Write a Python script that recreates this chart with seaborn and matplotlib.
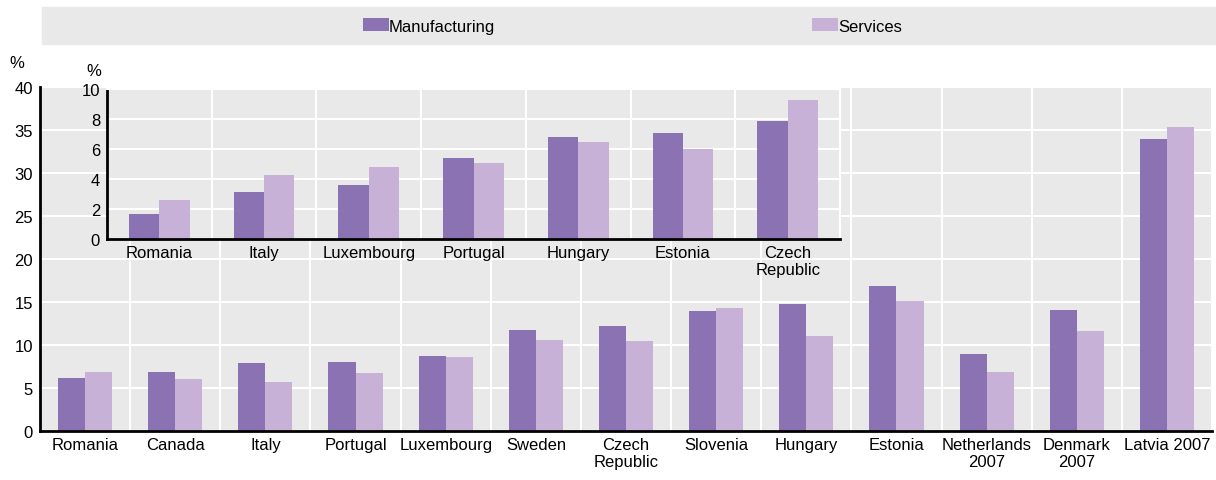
import numpy as np
import pandas as pd
import matplotlib
matplotlib.use("Agg")
import matplotlib.pyplot as plt
from matplotlib.patches import Rectangle
import seaborn as sns

# data
series_names = ["Manufacturing", "Services"]

main_countries = ["Romania", "Canada", "Italy", "Portugal", "Luxembourg", "Sweden",
                  "Czech\nRepublic", "Slovenia", "Hungary", "Estonia",
                  "Netherlands\n2007", "Denmark\n2007", "Latvia 2007"]
main_manufacturing = [6.2, 6.9, 7.9, 8.0, 8.7, 11.7, 12.2, 13.95, 14.75, 16.9, 8.9, 14.1, 33.9]
main_services = [6.9, 6.1, 5.7, 6.8, 8.55, 10.6, 10.5, 14.3, 11.1, 15.1, 6.85, 11.65, 35.35]
main_yticks = [0, 5, 10, 15, 20, 25, 30, 35, 40]

inset_countries = ["Romania", "Italy", "Luxembourg", "Portugal", "Hungary", "Estonia",
                   "Czech\nRepublic"]
inset_manufacturing = [1.67, 3.15, 3.6, 5.38, 6.8, 7.07, 7.9]
inset_services = [2.6, 4.3, 4.8, 5.09, 6.47, 5.98, 9.27]
inset_yticks = [0, 2, 4, 6, 8, 10]

palette = {"Manufacturing": "#8b73b3", "Services": "#c7b1d6"}
bg = "#e9e9e9"

sns.set_style("white", {"axes.facecolor": bg})
plt.rcParams["font.family"] = ["Liberation Sans Narrow", "Liberation Sans", "DejaVu Sans"]
plt.rcParams["font.size"] = 12
plt.rcParams["text.color"] = "black"
plt.rcParams["xtick.color"] = "black"
plt.rcParams["ytick.color"] = "black"
plt.rcParams["xtick.labelcolor"] = "black"
plt.rcParams["ytick.labelcolor"] = "black"


def to_long(countries, manu, serv):
    return pd.DataFrame({
        "country": countries * 2,
        "value": manu + serv,
        "series": [series_names[0]] * len(countries) + [series_names[1]] * len(countries),
    })


def style_axis(ax, n, yticks):
    ax.set_xlim(-0.5, n - 0.5)
    ax.set_ylim(yticks[0], yticks[-1])
    ax.set_yticks(yticks)
    ax.set_xticks(np.arange(n) + 0.5, minor=True)
    ax.set_axisbelow(True)
    ax.grid(True, axis="y", which="major", color="white", linewidth=1.5)
    ax.grid(True, axis="x", which="minor", color="white", linewidth=1.5)
    ax.grid(False, axis="x", which="major")
    ax.tick_params(axis="x", which="major", length=0, pad=4, labelsize=12, labelcolor="black")
    ax.tick_params(axis="x", which="minor", direction="in", length=5, width=2, color="black")
    ax.tick_params(axis="y", direction="in", length=5, width=2, pad=5, labelsize=12,
                   color="black", labelcolor="black")
    for s in ["left", "bottom"]:
        ax.spines[s].set_color("black")
        ax.spines[s].set_linewidth(2)
    for s in ["top", "right"]:
        ax.spines[s].set_visible(False)
    ax.set_xlabel("")
    ax.set_ylabel("")


fig = plt.figure(figsize=(12.16, 4.81), dpi=100)
W, H = 1216, 481

# main chart
ax = fig.add_axes([40 / W, 1 - 432 / H, (1212 - 40) / W, (432 - 88) / H])
sns.barplot(data=to_long(main_countries, main_manufacturing, main_services),
            x="country", y="value", hue="series", palette=palette,
            width=0.6, gap=0, linewidth=0, saturation=1, ax=ax)
style_axis(ax, len(main_countries), main_yticks)
handles, labels = ax.get_legend_handles_labels()
ax.get_legend().remove()

# inset chart
axi = fig.add_axes([107 / W, 1 - 240 / H, (840 - 107) / W, (240 - 90) / H])
sns.barplot(data=to_long(inset_countries, inset_manufacturing, inset_services),
            x="country", y="value", hue="series", palette=palette,
            width=0.58, gap=0, linewidth=0, saturation=1, ax=axi, legend=False)
style_axis(axi, len(inset_countries), inset_yticks)
for s in ["top", "right"]:
    axi.spines[s].set_visible(True)
    axi.spines[s].set_color("white")
    axi.spines[s].set_linewidth(1.5)

# unit labels
fig.text(17 / W, 1 - 63 / H, "%", ha="center", va="center", fontsize=12)
fig.text(94 / W, 1 - 72 / H, "%", ha="center", va="center", fontsize=12)

# legend band
fig.add_artist(Rectangle((42 / W, 1 - 45 / H), (W - 42) / W, 37 / H,
                         transform=fig.transFigure, color=bg, zorder=0))
fig.legend(handles, labels, loc="center left", bbox_to_anchor=(363 / W, 1 - 27 / H),
           ncol=2, frameon=False, fontsize=12, handlelength=1.56, handleheight=0.78,
           handletextpad=0.0, columnspacing=19.0, borderpad=0, borderaxespad=0)

fig.savefig("out.png", dpi=100)
